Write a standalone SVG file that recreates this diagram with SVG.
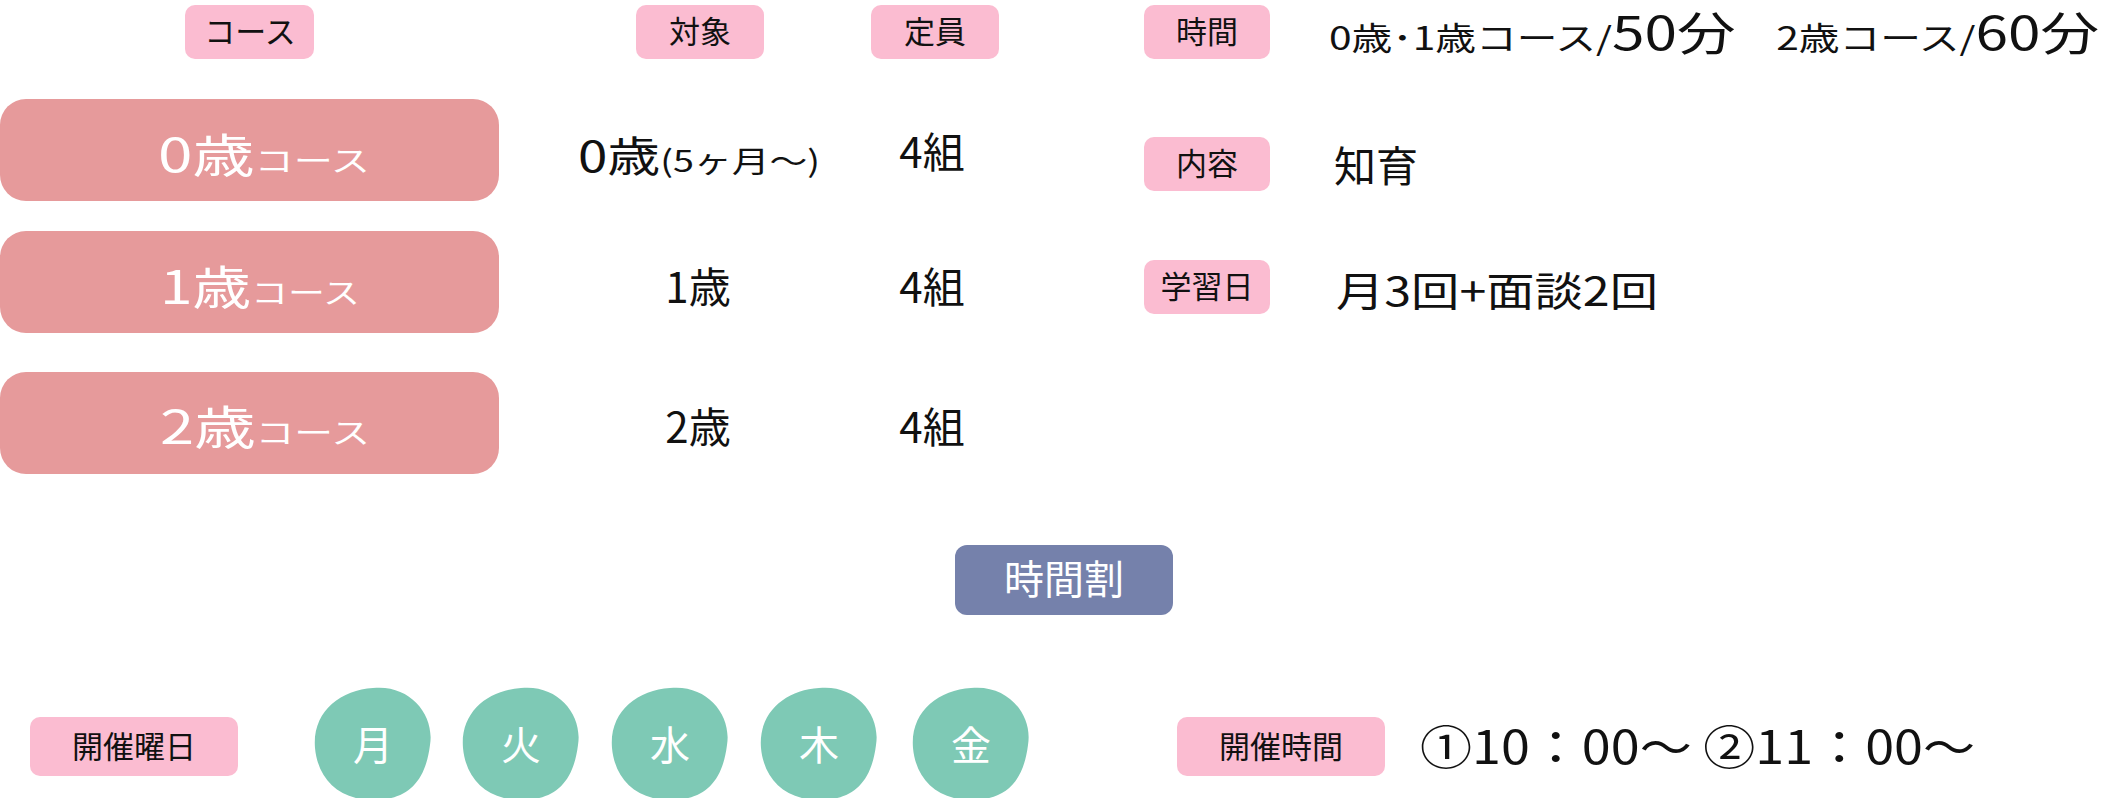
<svg xmlns="http://www.w3.org/2000/svg" width="2105" height="798" viewBox="0 0 2105 798">
<style>
.b{fill:#fbbcd1}
.c{fill:#e69a9b}
.g{fill:#7ec9b5}
text{font-family:"Noto Sans CJK JP","Noto Sans",sans-serif}
.bt{font-size:31px;fill:#111;text-anchor:middle}
.v{font-size:42px;fill:#111}
.w{fill:#fff}
</style>
<rect width="2105" height="798" fill="#fff"/>
<g id="h-course"><rect class="b" x="185" y="5" width="129" height="54" rx="10"/><text class="bt" x="250" y="43">コース</text></g>
<g id="h-target"><rect class="b" x="636" y="5" width="128" height="54" rx="10"/><text class="bt" x="700" y="43">対象</text></g>
<g id="h-cap"><rect class="b" x="871" y="5" width="128" height="54" rx="10"/><text class="bt" x="935" y="43">定員</text></g>
<g id="h-time"><rect class="b" x="1144" y="5" width="126" height="54" rx="10"/><text class="bt" x="1207" y="43">時間</text></g>
<text x="1329" y="50" style="font-size:32px;fill:#111" textLength="770" lengthAdjust="spacingAndGlyphs">0歳･1歳コース/<tspan style="font-size:46px">50分</tspan>　2歳コース/<tspan style="font-size:46px">60分</tspan></text>
<g id="c0"><rect class="c" x="0" y="99" width="499" height="102" rx="26"/><text class="w" x="158" y="172" style="font-size:46px" textLength="212" lengthAdjust="spacingAndGlyphs">0歳<tspan style="font-size:29px">コース</tspan></text></g>
<g id="c1"><rect class="c" x="0" y="231" width="499" height="102" rx="26"/><text class="w" x="160" y="304" style="font-size:46px" textLength="200" lengthAdjust="spacingAndGlyphs">1歳<tspan style="font-size:29px">コース</tspan></text></g>
<g id="c2"><rect class="c" x="0" y="372" width="499" height="102" rx="26"/><text class="w" x="160" y="444" style="font-size:46px" textLength="210" lengthAdjust="spacingAndGlyphs">2歳<tspan style="font-size:29px">コース</tspan></text></g>
<text class="v" x="578" y="172" textLength="242" lengthAdjust="spacingAndGlyphs">0歳<tspan style="font-size:30px">(5ヶ月〜)</tspan></text>
<text class="v" x="698" y="303" text-anchor="middle">1歳</text>
<text class="v" x="698" y="443" text-anchor="middle">2歳</text>
<text class="v" x="932" y="168" text-anchor="middle">4組</text>
<text class="v" x="932" y="303" text-anchor="middle">4組</text>
<text class="v" x="932" y="443" text-anchor="middle">4組</text>
<g id="h-content"><rect class="b" x="1144" y="137" width="126" height="54" rx="10"/><text class="bt" x="1207" y="175">内容</text></g>
<text class="v" x="1334" y="182">知育</text>
<g id="h-study"><rect class="b" x="1144" y="260" width="126" height="54" rx="10"/><text class="bt" x="1207" y="298">学習日</text></g>
<text class="v" x="1336" y="306" style="font-size:40px" textLength="322" lengthAdjust="spacingAndGlyphs">月3回+面談2回</text>
<g id="timetable"><rect x="955" y="545" width="218" height="70" rx="12" fill="#7581ab"/><text class="bt" x="1064" y="594" style="font-size:40px;fill:#fff">時間割</text></g>
<g id="h-days"><rect class="b" x="30" y="717" width="208" height="59" rx="10"/><text class="bt" x="134" y="758">開催曜日</text></g>
<g id="d1"><path class="g" d="M373,688 C410,684 435,715 430,745 C425,785 405,800 373,800 C340,800 318,780 315,748 C312,712 340,690 373,688Z"/><text class="w" x="373" y="760" style="font-size:40px;text-anchor:middle">月</text></g>
<g id="d2"><path class="g" d="M521,688 C558,684 583,715 578,745 C573,785 553,800 521,800 C488,800 466,780 463,748 C460,712 488,690 521,688Z"/><text class="w" x="521" y="760" style="font-size:40px;text-anchor:middle">火</text></g>
<g id="d3"><path class="g" d="M670,688 C707,684 732,715 727,745 C722,785 702,800 670,800 C637,800 615,780 612,748 C609,712 637,690 670,688Z"/><text class="w" x="670" y="760" style="font-size:40px;text-anchor:middle">水</text></g>
<g id="d4"><path class="g" d="M819,688 C856,684 881,715 876,745 C871,785 851,800 819,800 C786,800 764,780 761,748 C758,712 786,690 819,688Z"/><text class="w" x="819" y="760" style="font-size:40px;text-anchor:middle">木</text></g>
<g id="d5"><path class="g" d="M971,688 C1008,684 1033,715 1028,745 C1023,785 1003,800 971,800 C938,800 916,780 913,748 C910,712 938,690 971,688Z"/><text class="w" x="971" y="760" style="font-size:40px;text-anchor:middle">金</text></g>
<g id="h-hours"><rect class="b" x="1177" y="717" width="208" height="59" rx="10"/><text class="bt" x="1281" y="758">開催時間</text></g>
<text class="v" x="1420" y="764" style="font-size:46px" textLength="555" lengthAdjust="spacingAndGlyphs">①10：00～ ②11：00～</text>
<g id="connectors"/>
</svg>
